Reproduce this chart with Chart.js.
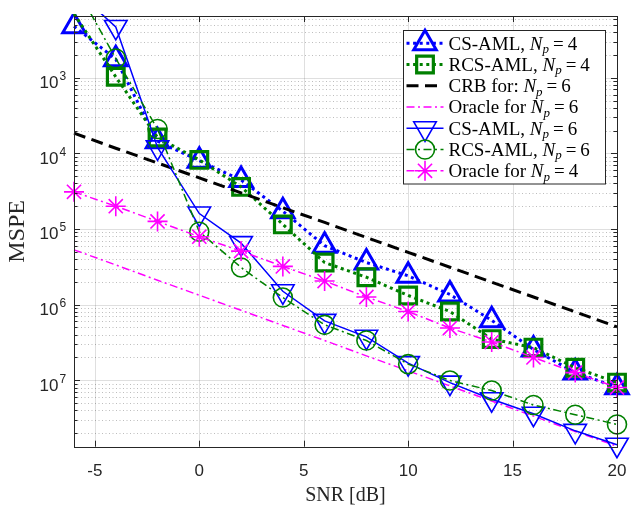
<!DOCTYPE html>
<html><head><meta charset="utf-8">
<script src="https://cdn.jsdelivr.net/npm/chart.js@4/dist/chart.umd.min.js"></script>
<style>html,body{margin:0;padding:0;background:#fff;}#wrap{width:633px;height:508px;position:relative;}</style>
</head><body><div id="wrap"><canvas id="c" width="633" height="508"></canvas></div>
<script>
// ---- data ----
const snr = [-6,-4,-2,0,2,4,6,8,10,12,14,16,18,20];
const csAmlNp4  = [4.8e-3,1.76e-3,1.45e-4,8.0e-5,4.45e-5,1.72e-5,6.0e-6,3.6e-6,2.4e-6,1.36e-6,6.2e-7,2.55e-7,1.26e-7,8.1e-8];
const rcsAmlNp4 = [7.0e-3,1.03e-3,1.62e-4,8.2e-5,3.6e-5,1.15e-5,3.6e-6,2.3e-6,1.32e-6,8.1e-7,3.5e-7,2.7e-7,1.46e-7,9.3e-8];
const crbNp6    = [1.85e-4,1.17e-4,7.47e-5,4.74e-5,3.01e-5,1.91e-5,1.22e-5,7.73e-6,4.91e-6,3.12e-6,1.98e-6,1.26e-6,8.0e-7,5.08e-7];
const oracleNp6 = [5.3e-6,3.35e-6,2.1e-6,1.33e-6,8.4e-7,5.3e-7,3.35e-7,2.1e-7,1.33e-7,8.4e-8,5.3e-8,3.35e-8,2.1e-8,1.34e-8];
const csAmlNp6  = [1.5e-2,4.7e-3,1.2e-4,1.6e-5,6.5e-6,1.5e-6,6.1e-7,3.75e-7,1.68e-7,9.3e-8,5.6e-8,3.6e-8,2.14e-8,1.4e-8];
const rcsAmlNp6 = [1.77e-2,1.8e-3,2.1e-4,9.2e-6,3.1e-6,1.24e-6,5.4e-7,3.35e-7,1.63e-7,9.9e-8,7.3e-8,4.7e-8,3.5e-8,2.6e-8];
const oracleNp4 = [3.1e-5,2.0e-5,1.26e-5,7.9e-6,5.1e-6,3.2e-6,2.05e-6,1.26e-6,8.1e-7,4.9e-7,3.2e-7,2.0e-7,1.26e-7,8.0e-8];

const xTicks = [-5,0,5,10,15,20];
const yTicks = [1e-3,1e-4,1e-5,1e-6,1e-7];
const yTickExp = ['3','4','5','6','7'];
const legendNames = ['CS-AML, ','RCS-AML, ','CRB for: ','Oracle for ','CS-AML, ','RCS-AML, ','Oracle for '];
const legendNp = ['4','4','6','6','6','6','4'];
const xTitle = 'SNR [dB]';
const yTitle = 'MSPE';

const X_MIN = -6, X_MAX = 20, Y_MIN = 1.32e-8, Y_MAX = 6.56e-3;

// ---- styles ----
const BLUE='#0000ff', GREEN='#008000', MAG='#ff00ff', BLACK='#000000', AXC='#262626';
const seriesList = [csAmlNp4, rcsAmlNp4, crbNp6, oracleNp6, csAmlNp6, rcsAmlNp6, oracleNp4];
const styles = [
  {color:BLUE,  width:3,   dash:[3,3.6],        marker:'triangle', rot:0,   r:13,  mw:3},
  {color:GREEN, width:3,   dash:[3,3.6],        marker:'rect',     rot:0,   r:11.8,mw:3.2},
  {color:BLACK, width:3,   dash:[12,6.5],       marker:null},
  {color:MAG,   width:1.5, dash:[8,3.5,2,3.5],  marker:null},
  {color:BLUE,  width:1.5, dash:[],             marker:'triangle', rot:180, r:13,  mw:1.6},
  {color:GREEN, width:1.5, dash:[8,3.5,2,3.5],  marker:'circle',   rot:0,   r:9.5, mw:1.6},
  {color:MAG,   width:1.5, dash:[8,3.5,2,3.5],  marker:'star',     rot:0,   r:10,  mw:1.6}
];

const datasets = seriesList.map((arr, i) => {
  const s = styles[i];
  return {
    label: legendNames[i] + 'Np = ' + legendNp[i],
    data: snr.map((x, j) => ({x: x, y: arr[j]})),
    borderColor: s.color,
    borderWidth: s.width,
    borderDash: s.dash,
    borderCapStyle: 'butt',
    pointStyle: s.marker || false,
    pointRotation: s.rot || 0,
    pointRadius: s.marker ? (c => (c.raw && c.raw.y > Y_MAX) ? 0 : s.r) : 0,
    pointHoverRadius: 0,
    pointBorderWidth: s.mw || 0,
    pointBorderColor: s.color,
    pointBackgroundColor: 'rgba(0,0,0,0)',
    fill: false,
    tension: 0,
    order: 10 - i,
    clip: {left: 16, top: 2, right: 16, bottom: 16}
  };
});

function drawMarker(ctx, style, x, y, r, rotDeg) {
  const rad = (rotDeg || 0) * Math.PI / 180;
  ctx.beginPath();
  if (style === 'triangle') {
    let a = rad;
    ctx.moveTo(x + Math.sin(a) * r, y - Math.cos(a) * r);
    a += 2 * Math.PI / 3; ctx.lineTo(x + Math.sin(a) * r, y - Math.cos(a) * r);
    a += 2 * Math.PI / 3; ctx.lineTo(x + Math.sin(a) * r, y - Math.cos(a) * r);
    ctx.closePath();
  } else if (style === 'rect') {
    const h = r * Math.SQRT1_2; ctx.rect(x - h, y - h, 2 * h, 2 * h);
  } else if (style === 'circle') {
    ctx.arc(x, y, r, 0, 2 * Math.PI); ctx.closePath();
  } else if (style === 'star') {
    for (let k = 0; k < 4; k++) {
      const a = rad + k * Math.PI / 4;
      ctx.moveTo(x - Math.cos(a) * r, y - Math.sin(a) * r);
      ctx.lineTo(x + Math.cos(a) * r, y + Math.sin(a) * r);
    }
  }
  ctx.stroke();
}

const SERIF = '"Liberation Serif", "Times New Roman", serif';
const SANS = '"Liberation Sans", Arial, sans-serif';

const axesPlugin = {
  id: 'matlabAxes',
  beforeDatasetsDraw(chart) {
    const ctx = chart.ctx, a = chart.chartArea, xs = chart.scales.x, ys = chart.scales.y;
    ctx.save();
    ctx.strokeStyle = 'rgba(38,38,38,0.3)'; ctx.lineWidth = 1; ctx.setLineDash([1,2.5]);
    const lo = Math.floor(Math.log10(Y_MIN)), hi = Math.ceil(Math.log10(Y_MAX));
    for (let n = lo; n <= hi; n++) for (let k = 2; k <= 9; k++) {
      const v = k * Math.pow(10, n); if (v < Y_MIN || v > Y_MAX) continue;
      const py = Math.round(ys.getPixelForValue(v)) + 0.5;
      ctx.beginPath(); ctx.moveTo(a.left, py); ctx.lineTo(a.right, py); ctx.stroke();
    }
    ctx.setLineDash([]); ctx.strokeStyle = 'rgba(38,38,38,0.15)';
    yTicks.forEach(v => { const py = Math.round(ys.getPixelForValue(v)) + 0.5;
      ctx.beginPath(); ctx.moveTo(a.left, py); ctx.lineTo(a.right, py); ctx.stroke(); });
    xTicks.forEach(v => { const px = Math.round(xs.getPixelForValue(v)) + 0.5;
      ctx.beginPath(); ctx.moveTo(px, a.top); ctx.lineTo(px, a.bottom); ctx.stroke(); });
    ctx.restore();
  },
  afterDatasetsDraw(chart) {
    const ctx = chart.ctx, a = chart.chartArea, xs = chart.scales.x, ys = chart.scales.y;
    ctx.save();
    ctx.strokeStyle = AXC; ctx.lineWidth = 1; ctx.setLineDash([]);
    ctx.strokeRect(Math.round(a.left) + 0.5, Math.round(a.top) + 0.5, Math.round(a.right - a.left), Math.round(a.bottom - a.top));
    ctx.beginPath();
    xTicks.forEach(v => { const px = Math.round(xs.getPixelForValue(v)) + 0.5;
      ctx.moveTo(px, a.bottom); ctx.lineTo(px, a.bottom - 6);
      ctx.moveTo(px, a.top); ctx.lineTo(px, a.top + 6); });
    const lo = Math.floor(Math.log10(Y_MIN)), hi = Math.ceil(Math.log10(Y_MAX));
    for (let n = lo; n <= hi; n++) for (let k = 1; k <= 9; k++) {
      const v = k * Math.pow(10, n); if (v < Y_MIN || v > Y_MAX) continue;
      const py = Math.round(ys.getPixelForValue(v)) + 0.5, L = (k === 1) ? 6 : 3.5;
      ctx.moveTo(a.left, py); ctx.lineTo(a.left + L, py);
      ctx.moveTo(a.right, py); ctx.lineTo(a.right - L, py);
    }
    ctx.stroke();
    ctx.fillStyle = AXC; ctx.textBaseline = 'alphabetic';
    yTicks.forEach((v, i) => {
      const py = ys.getPixelForValue(v);
      ctx.font = '17px ' + SANS; ctx.textAlign = 'right';
      ctx.fillText('10', a.left - 15.5, py + 10.5);
      ctx.font = '12px ' + SANS; ctx.textAlign = 'left';
      ctx.fillText(yTickExp[i], a.left - 14.5, py + 2.5);
    });
    ctx.restore();
  },
  afterDraw(chart) {
    const ctx = chart.ctx;
    ctx.save();
    const bx = 403.5, by = 30.5, bw = 202, bh = 153.5;
    ctx.fillStyle = '#ffffff'; ctx.fillRect(bx, by, bw, bh);
    ctx.strokeStyle = AXC; ctx.lineWidth = 1; ctx.strokeRect(bx, by, bw, bh);
    const LF = 19;
    for (let i = 0; i < 7; i++) {
      const s = styles[i], y = 43.3 + i * 21.25;
      ctx.strokeStyle = s.color; ctx.lineWidth = s.width; ctx.setLineDash(s.dash); ctx.lineCap = 'butt';
      ctx.beginPath(); ctx.moveTo(406.5, y); ctx.lineTo(443.5, y); ctx.stroke();
      ctx.setLineDash([]);
      if (s.marker) { ctx.lineWidth = s.mw; drawMarker(ctx, s.marker, 425, y, s.r, s.rot); }
      ctx.fillStyle = '#000'; ctx.textAlign = 'left'; ctx.textBaseline = 'alphabetic';
      let x = 448.5; const base = y + 6.3;
      ctx.font = LF + 'px ' + SERIF; ctx.fillText(legendNames[i], x, base); x += ctx.measureText(legendNames[i]).width;
      ctx.font = 'italic ' + LF + 'px ' + SERIF; ctx.fillText('N', x, base); x += ctx.measureText('N').width;
      ctx.font = 'italic ' + Math.round(LF * 0.7) + 'px ' + SERIF; ctx.fillText('p', x, base + 3.5); x += ctx.measureText('p').width + 4;
      ctx.font = LF + 'px ' + SERIF; ctx.fillText('=', x, base); x += ctx.measureText('=').width + 4;
      ctx.fillText(legendNp[i], x, base);
    }
    ctx.restore();
  }
};

function zeroPad(sc) { sc.paddingLeft = 0; sc.paddingRight = 0; sc.paddingTop = 0; sc.paddingBottom = 0; }

new Chart(document.getElementById('c'), {
  type: 'line',
  data: { datasets: datasets },
  options: {
    responsive: false, animation: false, events: [],
    layout: { padding: { left: 0, right: 11.3, top: 10, bottom: 0 } },
    plugins: { legend: { display: false }, tooltip: { enabled: false } },
    scales: {
      x: {
        type: 'linear', min: X_MIN, max: X_MAX,
        afterBuildTicks: ax => { ax.ticks = xTicks.map(v => ({value: v})); },
        afterFit: sc => { sc.height = 61.3; zeroPad(sc); },
        grid: { display: false, drawTicks: false }, border: { display: false },
        ticks: { color: AXC, font: { family: SANS, size: 17 }, padding: 14, maxRotation: 0, autoSkip: false,
                 callback: v => String(v) },
        title: { display: true, text: xTitle, color: AXC, font: { family: SERIF, size: 20 }, padding: { top: 0, bottom: 0 } }
      },
      y: {
        type: 'logarithmic', min: Y_MIN, max: Y_MAX, bounds: 'data',
        afterBuildTicks: ax => { ax.ticks = yTicks.map(v => ({value: v})); },
        afterFit: sc => { sc.width = 74; zeroPad(sc); },
        grid: { display: false, drawTicks: false }, border: { display: false },
        ticks: { display: false },
        title: { display: true, text: yTitle, color: AXC, font: { family: SERIF, size: 24 }, padding: { top: 3, bottom: 0 } }
      }
    }
  },
  plugins: [axesPlugin]
});
</script></body></html>
